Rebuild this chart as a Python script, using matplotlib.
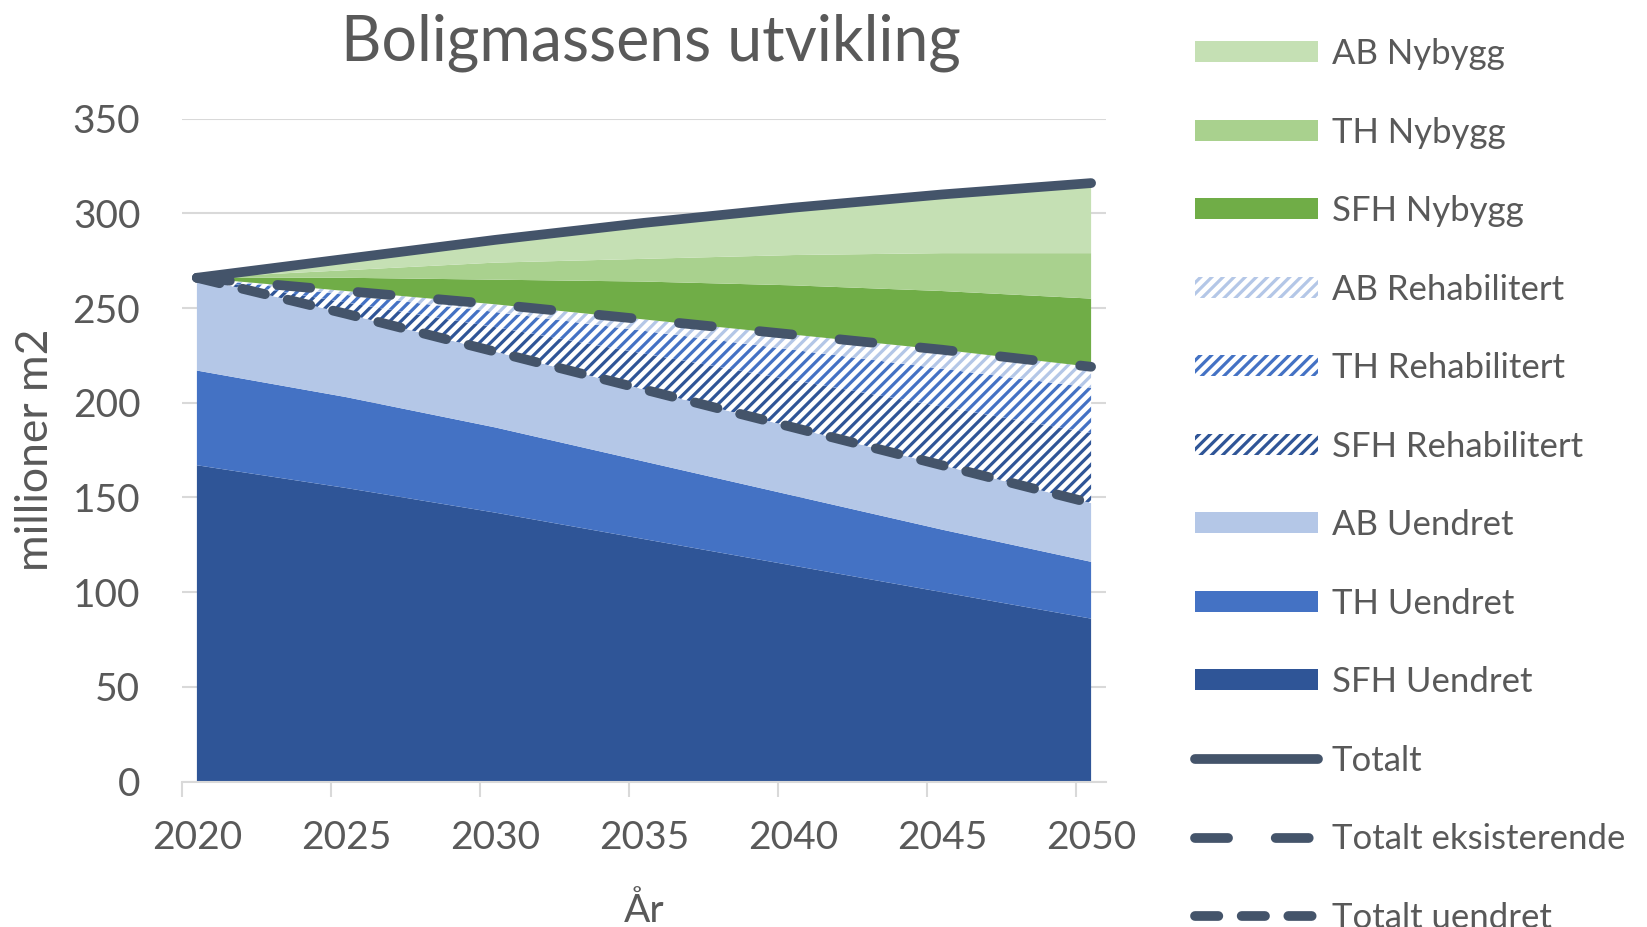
import matplotlib.pyplot as plt
import numpy as np

years = [2020, 2025, 2030, 2035, 2040, 2045, 2050]

# millioner m2
sfh_uendret = [167, 155, 142, 128, 114, 100, 86]
th_uendret = [50, 48, 45, 41, 37, 33, 30]
ab_uendret = [49, 44, 40, 38, 36, 34, 31]
sfh_rehab = [0, 6, 13, 19, 25, 31, 37]
th_rehab = [0, 4, 8, 12, 16, 20, 24]
ab_rehab = [0, 2, 4, 6, 8, 10, 11]
sfh_nybygg = [0, 7, 13, 20, 26, 31, 36]
th_nybygg = [0, 4, 9, 12, 16, 20, 24]
ab_nybygg = [0, 6, 12, 19, 25, 31, 37]

text_col = '#595959'
line_col = '#44546A'
grid_col = '#D9D9D9'

plt.rcParams['font.family'] = ['Lato', 'DejaVu Sans']
plt.rcParams['hatch.linewidth'] = 2.3

fig = plt.figure(figsize=(16.47, 9.27), dpi=100)
ax = fig.add_axes([182 / 1647, 1 - 781.5 / 927, 924 / 1647, 662.8 / 927])

layers = [
    (sfh_uendret, '#2F5597', None, 'SFH Uendret'),
    (th_uendret, '#4472C4', None, 'TH Uendret'),
    (ab_uendret, '#B4C7E7', None, 'AB Uendret'),
    (sfh_rehab, '#2F5597', '///', 'SFH Rehabilitert'),
    (th_rehab, '#4472C4', '///', 'TH Rehabilitert'),
    (ab_rehab, '#B4C7E7', '///', 'AB Rehabilitert'),
    (sfh_nybygg, '#70AD47', None, 'SFH Nybygg'),
    (th_nybygg, '#A9D18E', None, 'TH Nybygg'),
    (ab_nybygg, '#C5E0B4', None, 'AB Nybygg'),
]

base = np.zeros(len(years))
tops = []
area_handles = []
for vals, col, hatch, name in layers:
    top = base + np.array(vals)
    if hatch:
        plt.rcParams['hatch.color'] = col
        h = ax.fill_between(years, base, top, facecolor='white', edgecolor=col,
                            hatch=hatch, linewidth=0, label=name)
    else:
        h = ax.fill_between(years, base, top, facecolor=col, linewidth=0, label=name)
    area_handles.append(h)
    tops.append(top)
    base = top

totalt = tops[8]
totalt_eksist = tops[5]
totalt_uendret = tops[2]

l1, = ax.plot(years, totalt, color=line_col, lw=7, solid_capstyle='round', label='Totalt')
l2, = ax.plot(years, totalt_eksist, color=line_col, lw=7, linestyle=(0, (3.4, 4.9)),
              dash_capstyle='round', label='Totalt eksisterende')
l3, = ax.plot(years, totalt_uendret, color=line_col, lw=7, linestyle=(0, (2.4, 2.4)),
              dash_capstyle='round', label='Totalt uendret')

ax.set_xlim(2019.5, 2050.5)
ax.set_ylim(0, 350)
ax.set_yticks(np.arange(0, 351, 50))
ax.set_xticks(years)
ax.set_xticks(np.arange(2019.5, 2050, 5), minor=True)
ax.tick_params(axis='x', which='major', length=0, pad=28, labelsize=28, labelcolor=text_col)
ax.tick_params(axis='x', which='minor', length=11, width=1.5, color=grid_col)
ax.tick_params(axis='y', length=0, pad=30, labelsize=28, labelcolor=text_col)
ax.grid(axis='y', color=grid_col, lw=1.5)
ax.set_axisbelow(True)
for s in ['left', 'right', 'top']:
    ax.spines[s].set_visible(False)
ax.spines['bottom'].set_color(grid_col)
ax.spines['bottom'].set_linewidth(1.5)

ax.set_title('Boligmassens utvikling', fontsize=45, color=text_col, pad=42, x=0.508)
ax.set_ylabel('millioner m2', fontsize=32, color=text_col, labelpad=12)
ax.set_xlabel('År', fontsize=28, color=text_col, labelpad=26)

leg_handles = area_handles[::-1] + [l1, l2, l3]
fig.legend(handles=leg_handles, loc='upper left', bbox_to_anchor=(1195 / 1647, 1 - 38 / 927),
           frameon=False, fontsize=25, labelcolor=text_col, handlelength=3.54,
           handleheight=0.55, handletextpad=0.4, labelspacing=1.34,
           borderpad=0, borderaxespad=0)

plt.savefig('out.png')
